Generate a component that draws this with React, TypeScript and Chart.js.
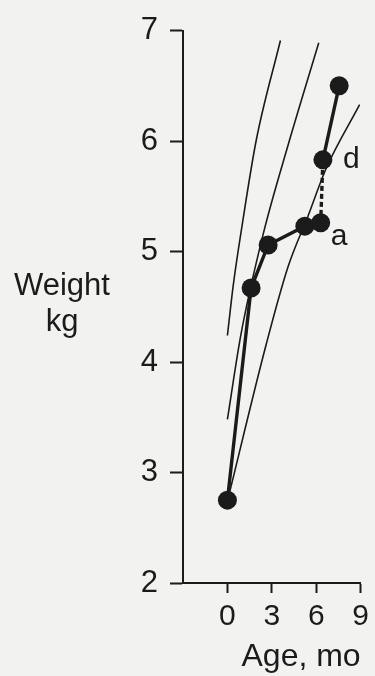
import { useEffect, useRef } from "react";
import { Chart, registerables } from "chart.js";

Chart.register(...registerables);

// Infant weight record (age in months, weight in kg)
const ageMonths = [0, 1.6, 2.75, 5.23, 6.3, 6.45, 7.55];
const weightKg = [2.75, 4.67, 5.06, 5.23, 5.26, 5.83, 6.5];
const pointNotes = ["", "", "", "", "a", "d", ""];

// Reference growth curves
const upperAge = [0, 0.4, 0.95, 1.95, 3.58];
const upperWeight = [4.24, 4.7, 5.2, 6.01, 6.91];
const middleAge = [0, 0.9, 2.42, 4.09, 6.17];
const middleWeight = [3.48, 4.24, 5.16, 5.96, 6.89];
const lowerAge = [0, 2.64, 4.09, 5.44, 6.66, 8.93];
const lowerWeight = [2.74, 4.17, 4.86, 5.32, 5.75, 6.33];

const xTicks = [0, 3, 6, 9];
const yTicks = [2, 3, 4, 5, 6, 7];

const INK = "#1b1b1b";
const PAPER = "#f2f2f1";
const FONT = "'Liberation Sans', Arial, sans-serif";

const toPoints = (xs: number[], ys: number[]) => xs.map((x, i) => ({ x, y: ys[i] }));

const textLayer = {
  id: "textLayer",
  afterDatasetsDraw(chart: any) {
    const { ctx } = chart;
    const xs = chart.scales.x;
    const ys = chart.scales.y;
    ctx.save();
    ctx.fillStyle = INK;
    ctx.font = `31px ${FONT}`;
    ctx.textAlign = "center";
    ctx.textBaseline = "alphabetic";
    ctx.fillText("Weight", 62, 295);
    ctx.fillText("kg", 62, 331);

    ctx.textAlign = "left";
    ctx.font = `30px ${FONT}`;
    pointNotes.forEach((note, i) => {
      if (!note) return;
      const px = xs.getPixelForValue(ageMonths[i]);
      const py = ys.getPixelForValue(weightKg[i]);
      if (note === "a") ctx.fillText(note, px + 10, py + 22);
      else ctx.fillText(note, px + 20, py + 8);
    });
    ctx.restore();
  },
};

export default function App() {
  const canvasRef = useRef<HTMLCanvasElement | null>(null);

  useEffect(() => {
    if (!canvasRef.current) return;
    const curve = (xs: number[], ys: number[]) => ({
      data: toPoints(xs, ys),
      borderColor: INK,
      borderWidth: 1.6,
      pointRadius: 0,
      cubicInterpolationMode: "monotone" as const,
      fill: false,
    });

    const chart = new Chart(canvasRef.current, {
      type: "line",
      data: {
        datasets: [
          curve(upperAge, upperWeight),
          curve(middleAge, middleWeight),
          curve(lowerAge, lowerWeight),
          {
            data: toPoints(ageMonths, weightKg),
            borderColor: INK,
            borderWidth: 3.4,
            pointRadius: 9.5,
            pointBackgroundColor: INK,
            pointBorderColor: INK,
            pointBorderWidth: 0,
            tension: 0,
            fill: false,
            segment: {
              borderDash: (c: any) => (c.p0DataIndex === 4 ? [5, 3] : undefined),
            },
          },
        ],
      },
      options: {
        animation: false,
        responsive: true,
        maintainAspectRatio: false,
        layout: { padding: { top: 24, right: 12, left: 0, bottom: 0 } },
        plugins: {
          legend: { display: false },
          tooltip: { enabled: false },
        },
        scales: {
          x: {
            type: "linear",
            min: -3,
            max: 9,
            afterBuildTicks: (s: any) => {
              s.ticks = xTicks.map((value) => ({ value }));
            },
            afterFit: (s: any) => {
              s.height = 93;
            },
            border: { display: true, color: INK, width: 2 },
            grid: {
              drawOnChartArea: false,
              drawTicks: true,
              tickLength: 10,
              tickWidth: 2,
              tickColor: INK,
            },
            ticks: {
              color: INK,
              padding: 6,
              font: { family: FONT, size: 30 },
              maxRotation: 0,
            },
            title: {
              display: true,
              text: "Age, mo",
              align: "end",
              color: INK,
              font: { family: FONT, size: 32 },
              padding: { top: 0, bottom: 0 },
            },
          },
          y: {
            type: "linear",
            min: 2,
            max: 7,
            afterBuildTicks: (s: any) => {
              s.ticks = yTicks.map((value) => ({ value }));
            },
            afterFit: (s: any) => {
              s.width = 183;
            },
            border: { display: true, color: INK, width: 2 },
            grid: {
              drawOnChartArea: false,
              drawTicks: true,
              tickLength: 13,
              tickWidth: 2,
              tickColor: INK,
            },
            ticks: {
              color: INK,
              padding: 12,
              font: { family: FONT, size: 31 },
            },
          },
        },
      },
      plugins: [textLayer],
    });

    return () => chart.destroy();
  }, []);

  return (
    <div
      style={{
        position: "fixed",
        left: 0,
        top: 0,
        width: 375,
        height: 676,
        background: PAPER,
      }}
    >
      <canvas ref={canvasRef} />
    </div>
  );
}
